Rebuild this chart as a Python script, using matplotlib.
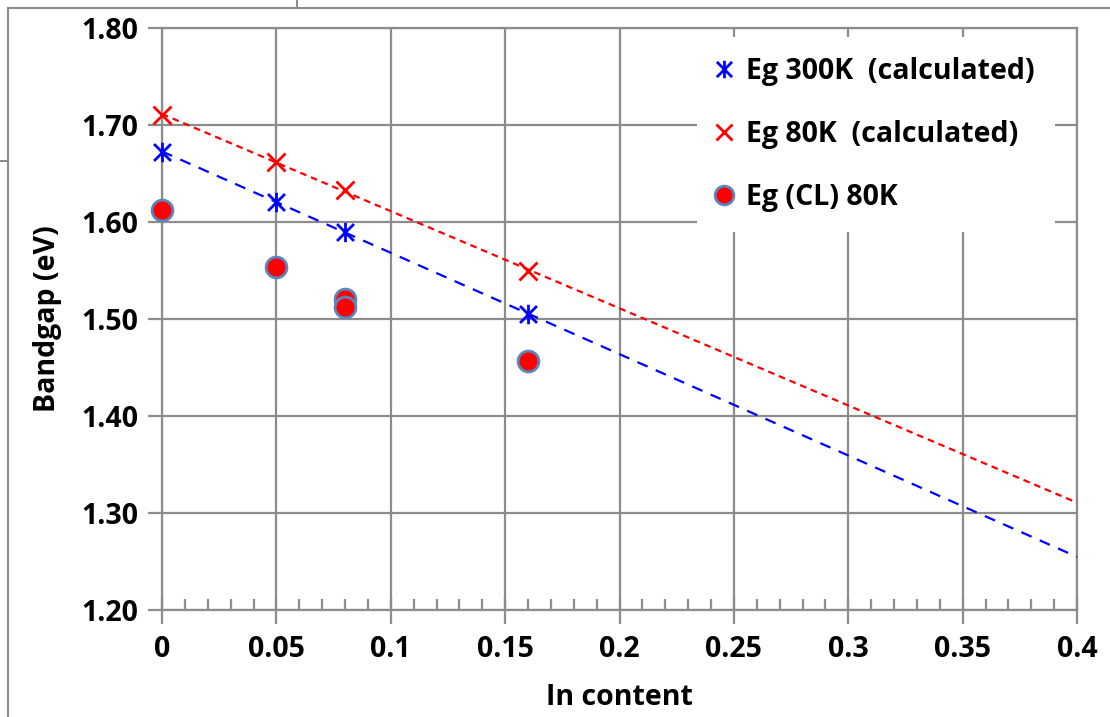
import numpy as np
import matplotlib
matplotlib.use("Agg")
import matplotlib.pyplot as plt
from matplotlib.lines import Line2D
from matplotlib.path import Path

plt.rcParams['font.family'] = ['Open Sans', 'DejaVu Sans']
plt.rcParams['font.weight'] = 'bold'

# Data
in_content = [0.0, 0.05, 0.08, 0.16]
eg_300k = [1.672, 1.621, 1.590, 1.505]
eg_80k = [1.710, 1.662, 1.633, 1.550]
cl_x = [0.0, 0.05, 0.08, 0.08, 0.16]
cl_80k = [1.612, 1.554, 1.521, 1.512, 1.457]

x_ticks = [0, 0.05, 0.1, 0.15, 0.2, 0.25, 0.3, 0.35, 0.4]
x_labels = ['0', '0.05', '0.1', '0.15', '0.2', '0.25', '0.3', '0.35', '0.4']
y_ticks = [1.20, 1.30, 1.40, 1.50, 1.60, 1.70, 1.80]

grid_col = '#8c8c8c'

# Excel-style star: an X plus a vertical bar
star = Path([(-1, -1), (1, 1), (-1, 1), (1, -1), (0, -1.15), (0, 1.15)],
            [Path.MOVETO, Path.LINETO, Path.MOVETO, Path.LINETO, Path.MOVETO, Path.LINETO])

fig = plt.figure(figsize=(11.1, 7.17), dpi=100)
ax = fig.add_axes([162 / 1110, 1 - 610 / 717, (1077 - 162) / 1110, (610 - 28) / 717])

# linear trendlines fitted to the calculated points
xx = np.array([0, 0.4])
p300 = np.polyfit(in_content, eg_300k, 1)
p80 = np.polyfit(in_content, eg_80k, 1)
ax.plot(xx, np.polyval(p300, xx), color='blue', lw=1.6, dashes=(5, 4), zorder=3)
ax.plot(xx, np.polyval(p80, xx), color='red', lw=1.6, dashes=(3, 2.2), zorder=3)

ax.plot(in_content, eg_300k, linestyle='none', marker=star, color='blue',
        markersize=14, markeredgewidth=2, zorder=4, clip_on=False,
        label='Eg 300K  (calculated)')
ax.plot(in_content, eg_80k, linestyle='none', marker='x', color='red',
        markersize=13, markeredgewidth=2, zorder=4, clip_on=False,
        label='Eg 80K  (calculated)')
ax.plot(cl_x, cl_80k, linestyle='none', marker='o', markerfacecolor='red',
        markeredgecolor='#5a86c0', markersize=15, markeredgewidth=2, zorder=5,
        clip_on=False, label='Eg (CL) 80K')

ax.set_xlim(0, 0.4)
ax.set_ylim(1.2, 1.8)
ax.set_xticks(x_ticks)
ax.set_xticklabels(x_labels)
ax.set_xticks(np.arange(0, 0.4001, 0.01), minor=True)
ax.set_yticks(y_ticks)
ax.set_yticklabels(['%.2f' % v for v in y_ticks])

ax.grid(True, which='major', color=grid_col, lw=1.6)
ax.set_axisbelow(True)
for s in ax.spines.values():
    s.set_color(grid_col)
    s.set_linewidth(1.6)

ax.tick_params(axis='x', which='major', direction='inout', length=20, width=1.6,
               color=grid_col, labelsize=20.5, pad=8)
ax.tick_params(axis='x', which='minor', direction='in', length=8, width=1.6,
               color=grid_col)
ax.tick_params(axis='y', which='major', direction='out', length=10, width=1.6,
               color=grid_col, labelsize=20.5, pad=7)
ax.tick_params(axis='y', which='minor', left=False)

ax.set_xlabel('In content', fontsize=20.5, fontweight='bold', labelpad=14)
ax.set_ylabel('Bandgap (eV)', fontsize=20.5, fontweight='bold', labelpad=14)

leg = ax.legend(loc='upper right', bbox_to_anchor=(0.976, 0.985), fontsize=20.5,
                frameon=True, framealpha=1, edgecolor='white', fancybox=False,
                labelspacing=1.2, handlelength=0.5, handletextpad=0.55,
                borderpad=0.7, borderaxespad=0.0, markerscale=0.9)
leg.get_frame().set_linewidth(0)

# outer chart-area frame and the stray sheet lines
fig.add_artist(Line2D([8 / 1110, 8 / 1110], [0, 1 - 8 / 717], color=grid_col, lw=1.5))
fig.add_artist(Line2D([8 / 1110, 1], [1 - 8 / 717, 1 - 8 / 717], color=grid_col, lw=1.5))
fig.add_artist(Line2D([0, 8 / 1110], [1 - 161 / 717, 1 - 161 / 717], color=grid_col, lw=1.5))
fig.add_artist(Line2D([297 / 1110, 297 / 1110], [1 - 8 / 717, 1], color=grid_col, lw=1.5))

fig.savefig('out.png', dpi=100)
